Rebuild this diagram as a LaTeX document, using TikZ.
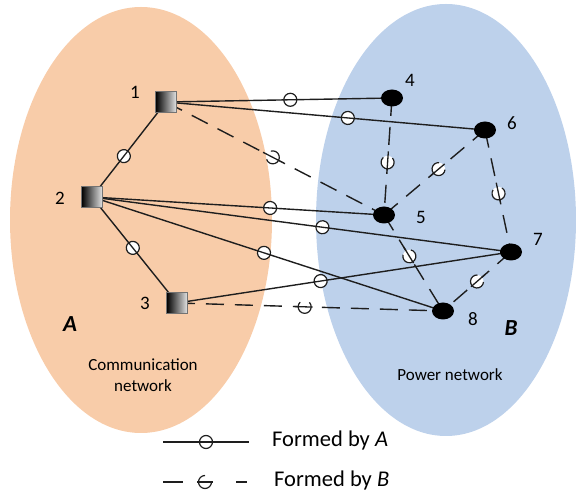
\documentclass[tikz,border=0pt]{standalone}
\usepackage{fontspec}
\setmainfont{Carlito}
\usetikzlibrary{shapes.geometric,decorations.markings}
\pgfdeclarelayer{bg}
\pgfdeclarelayer{edges}
\pgfsetlayers{bg,edges,main}

\definecolor{commfill}{RGB}{248,204,169}
\definecolor{powerfill}{RGB}{189,209,235}
\definecolor{linkcol}{RGB}{30,30,30}

\tikzset{
  region/.style={ellipse, inner sep=0pt, draw=none},
  link/.style={line width=1.4pt, draw=linkcol},
  % solid link with a hollow ring
  aedge/.style={link, postaction={decorate, decoration={markings,
      mark=at position #1 with {
        \draw[solid, line width=1.2pt, fill=white] (0,0) circle (6.5pt);
        \draw[solid, line width=1.3pt] (-6.5pt,0) -- (6.5pt,0);}}}},
  % dashed link with an open ring (#2 = start angle of the arc)
  bedge/.style 2 args={link, dash pattern=on 18pt off 11pt,
    postaction={decorate, decoration={markings,
      mark=at position #1 with {
        \fill[white] (0,0) circle (6.5pt);
        \draw[solid, line width=1.2pt] (#2:6.5pt) arc[start angle=#2, delta angle=270, radius=6.5pt];
        \draw[solid, line width=1.3pt] (-11pt,0) -- (8pt,0);}}}},
  sqnode/.style={rectangle, minimum size=21pt, inner sep=0pt,
    left color=black, right color=black!10, draw=black!55, line width=0.6pt},
  dotnode/.style={ellipse, fill=black, minimum width=22pt, minimum height=17pt, inner sep=0pt},
  num/.style={font=\fontsize{19}{21}\selectfont, inner sep=0pt},
  setname/.style={font=\fontsize{23}{25}\selectfont\bfseries\itshape, inner sep=0pt},
  caption/.style={font=\fontsize{17}{21}\selectfont, align=center, inner sep=0pt},
  legtext/.style={font=\fontsize{22.5}{25}\selectfont, anchor=west, inner sep=0pt},
}

\begin{document}
\begin{tikzpicture}[x=1pt, y=1pt]
\useasboundingbox (0,0) rectangle (576,498);

% the two networks
\begin{pgfonlayer}{bg}
  \node[region, fill=commfill, minimum width=262pt, minimum height=426pt] (regA) at (141,278) {};
  \node[region, fill=powerfill, minimum width=260pt, minimum height=432pt] (regB) at (446,278) {};
\end{pgfonlayer}

% communication nodes
\node[sqnode] (n1) at (166,396) {};
\node[sqnode] (n2) at (92,301) {};
\node[sqnode] (n3) at (177,195) {};
% power nodes
\node[dotnode] (n4) at (392,400) {};
\node[dotnode] (n6) at (485,368) {};
\node[dotnode] (n5) at (384,283) {};
\node[dotnode] (n7) at (511,246) {};
\node[dotnode] (n8) at (443,187) {};

% node numbers
\node[num] (t1) at (135,406) {1};
\node[num] (t2) at (60,300) {2};
\node[num] (t3) at (145,195) {3};
\node[num] (t4) at (410,418) {4};
\node[num] (t6) at (512,375) {6};
\node[num] (t5) at (421,281) {5};
\node[num] (t7) at (538,259) {7};
\node[num] (t8) at (473,179) {8};

\node[setname] (setA) at (70,174) {A};
\node[setname] (setB) at (511,170) {B};
\node[caption] (capA) at (143,123) {Communication\\network};
\node[caption] (capB) at (450,123) {Power network};

% interdependency links
\begin{pgfonlayer}{edges}
  \draw[aedge=0.55] (n1.center) -- (n4.center);
  \draw[aedge=0.57] (n1.center) -- (n6.center);
  \draw[aedge=0.57] (n1.center) -- (n2.center);
  \draw[aedge=0.48] (n2.center) -- (n3.center);
  \draw[aedge=0.61] (n2.center) -- (n5.center);
  \draw[aedge=0.55] (n2.center) -- (n7.center);
  \draw[aedge=0.49] (n2.center) -- (n8.center);
  \draw[aedge=0.43] (n3.center) -- (n7.center);

  \draw[bedge={0.49}{225}] (n1.center) -- (n5.center);
  \draw[bedge={0.55}{225}] (n4.center) -- (n5.center);
  \draw[bedge={0.54}{45}]  (n5.center) -- (n6.center);
  \draw[bedge={0.52}{225}] (n6.center) -- (n7.center);
  \draw[bedge={0.43}{225}] (n5.center) -- (n8.center);
  \draw[bedge={0.50}{225}] (n7.center) -- (n8.center);
  \draw[bedge={0.48}{135}] (n3.center) -- (n8.center);
\end{pgfonlayer}

% legend
\coordinate (la1) at (163,56);
\coordinate (la2) at (249,56);
\draw[aedge=0.5] (la1) -- (la2);
\node[legtext] (legA) at (272,57) {Formed by \textit{A}};

\coordinate (lb1) at (163,16);
\coordinate (lb2) at (247,16);
\draw[link, dash pattern=on 20pt off 53pt on 11pt,
  postaction={decorate, decoration={markings, mark=at position 0.5 with {
    \draw[solid, line width=1.2pt] (90:6.5pt) arc[start angle=90, delta angle=270, radius=6.5pt];
    \draw[solid, line width=1.3pt] (-8pt,0) -- (8pt,0);}}}] (lb1) -- (lb2);
\node[legtext] (legB) at (274,17) {Formed by \textit{B}};
\end{tikzpicture}
\end{document}
